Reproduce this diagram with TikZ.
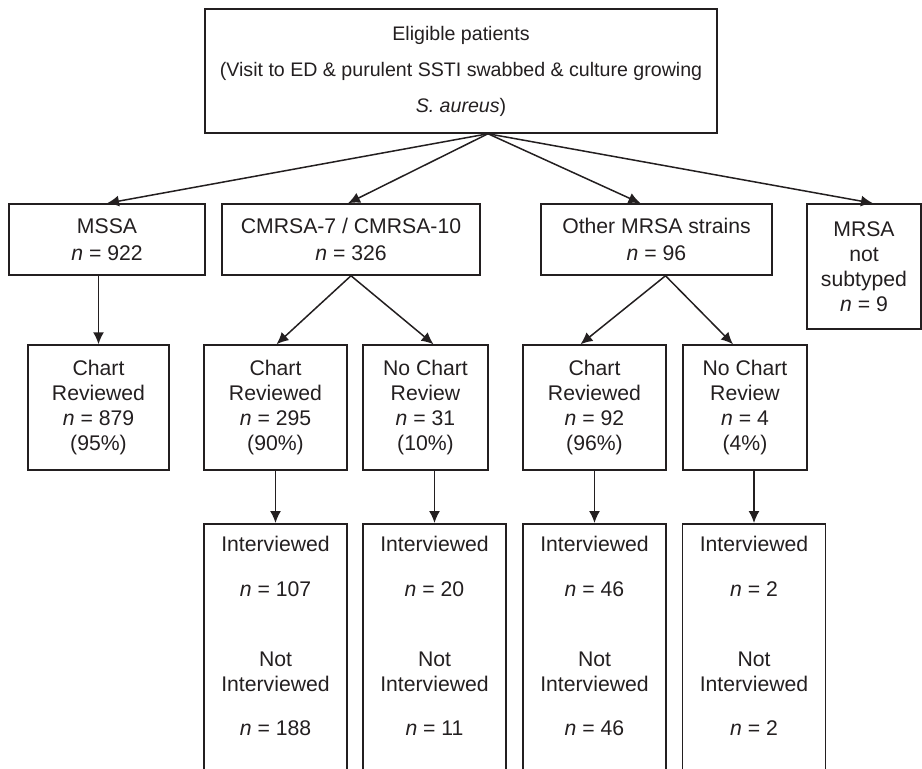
\documentclass[tikz,border=0pt]{standalone}
\usepackage{fontspec}
\setmainfont{Liberation Sans}
\usetikzlibrary{positioning,arrows.meta}
\definecolor{ink}{RGB}{35,31,32}

\begin{document}
\begin{tikzpicture}[
  x=0.5pt, y=-0.5pt,
  line width=0.75pt, draw=ink,
  arr/.style={-{Latex[length=6pt,width=5.5pt]}},
  box/.style={draw=ink,rectangle,align=center,inner sep=0pt,text=ink,
    font=\fontsize{10.6}{12.5}\selectfont},
  midbox/.style={box,minimum height=62.5pt},
  tallbox/.style={box,minimum width=71.5pt,minimum height=150pt,anchor=north},
  talltext/.style={align=center,inner sep=0pt,text=ink,anchor=north,
    font=\fontsize{10.6}{12.5}\selectfont}
]
\useasboundingbox (0,0) rectangle (922,768);

% top
\node[box,minimum width=256pt,minimum height=62pt,
  font=\fontsize{9.8}{12.5}\selectfont] (top) at (461,71)
  {Eligible patients\\[5.5pt]
   (Visit to ED \& purulent SSTI swabbed \& culture growing\\[5.5pt]
   \textit{S. aureus})};
\coordinate (src) at ([xshift=13.5pt]top.south);

% strains
\node[box,minimum width=98pt,minimum height=35.5pt] (mssa) at (107,239.5)
  {MSSA\\[1pt]\textit{n} = 922};
\node[box,minimum width=129pt,minimum height=35.5pt] (cm) at (351,239.5)
  {CMRSA-7 / CMRSA-10\\[1pt]\textit{n} = 326};
\node[box,minimum width=115.5pt,minimum height=35.5pt] (oth) at (656.5,239.5)
  {Other MRSA strains\\[1pt]\textit{n} = 96};
\node[box,minimum width=57pt,minimum height=62.5pt] (nst) at (864,266.5)
  {MRSA\\not\\subtyped\\\textit{n} = 9};

% chart review
\node[midbox,minimum width=70.5pt] (mchart) at (98.5,407.5)
  {Chart\\Reviewed\\\textit{n} = 879\\(95\%)};
\node[midbox,minimum width=71.5pt] (cchart) at (275.5,407.5)
  {Chart\\Reviewed\\\textit{n} = 295\\(90\%)};
\node[midbox,minimum width=62.5pt] (cno) at (425.5,407.5)
  {No Chart\\Review\\\textit{n} = 31\\(10\%)};
\node[midbox,minimum width=71.5pt] (ochart) at (594.5,407.5)
  {Chart\\Reviewed\\\textit{n} = 92\\(96\%)};
\node[midbox,minimum width=62pt] (ono) at (745,407.5)
  {No Chart\\Review\\\textit{n} = 4\\(4\%)};

% interviews
\node[tallbox] (cint) at (275.5,523) {};
\node[tallbox] (cnoint) at (434.5,523) {};
\node[tallbox] (oint) at (594.5,523) {};
\node[tallbox] (onoint) at (754,523) {};

\node[talltext] (cinttxt) at ([yshift=-6pt]cint.north)
  {Interviewed\\[10pt]\textit{n} = 107\\[22.5pt]Not\\Interviewed\\[9.5pt]\textit{n} = 188};
\node[talltext] (cnointtxt) at ([yshift=-6pt]cnoint.north)
  {Interviewed\\[10pt]\textit{n} = 20\\[22.5pt]Not\\Interviewed\\[9.5pt]\textit{n} = 11};
\node[talltext] (ointtxt) at ([yshift=-6pt]oint.north)
  {Interviewed\\[10pt]\textit{n} = 46\\[22.5pt]Not\\Interviewed\\[9.5pt]\textit{n} = 46};
\node[talltext] (onointtxt) at ([yshift=-6pt]onoint.north)
  {Interviewed\\[10pt]\textit{n} = 2\\[22.5pt]Not\\Interviewed\\[9.5pt]\textit{n} = 2};

\draw[arr] (src) -- (mssa.north);
\draw[arr] (src) -- ([xshift=-1.5pt]cm.north);
\draw[arr] (src) -- ([xshift=-8pt]oth.north);
\draw[arr] (src) -- ([xshift=4.5pt]nst.north);

\draw[arr] (mchart.north |- mssa.south) -- (mchart.north);
\draw[arr] (cm.south) -- ([xshift=0.5pt]cchart.north);
\draw[arr] (cm.south) -- ([xshift=4pt]cno.north);
\draw[arr] ([xshift=4.5pt]oth.south) -- ([xshift=-7pt]ochart.north);
\draw[arr] ([xshift=4.5pt]oth.south) -- ([xshift=-6pt]ono.north);

\draw[arr] (cint.north |- cchart.south) -- (cint.north);
\draw[arr] (cnoint.north |- cno.south) -- (cnoint.north);
\draw[arr] (oint.north |- ochart.south) -- (oint.north);
\draw[arr] (onoint.north |- ono.south) -- (onoint.north);

\end{tikzpicture}
\end{document}
